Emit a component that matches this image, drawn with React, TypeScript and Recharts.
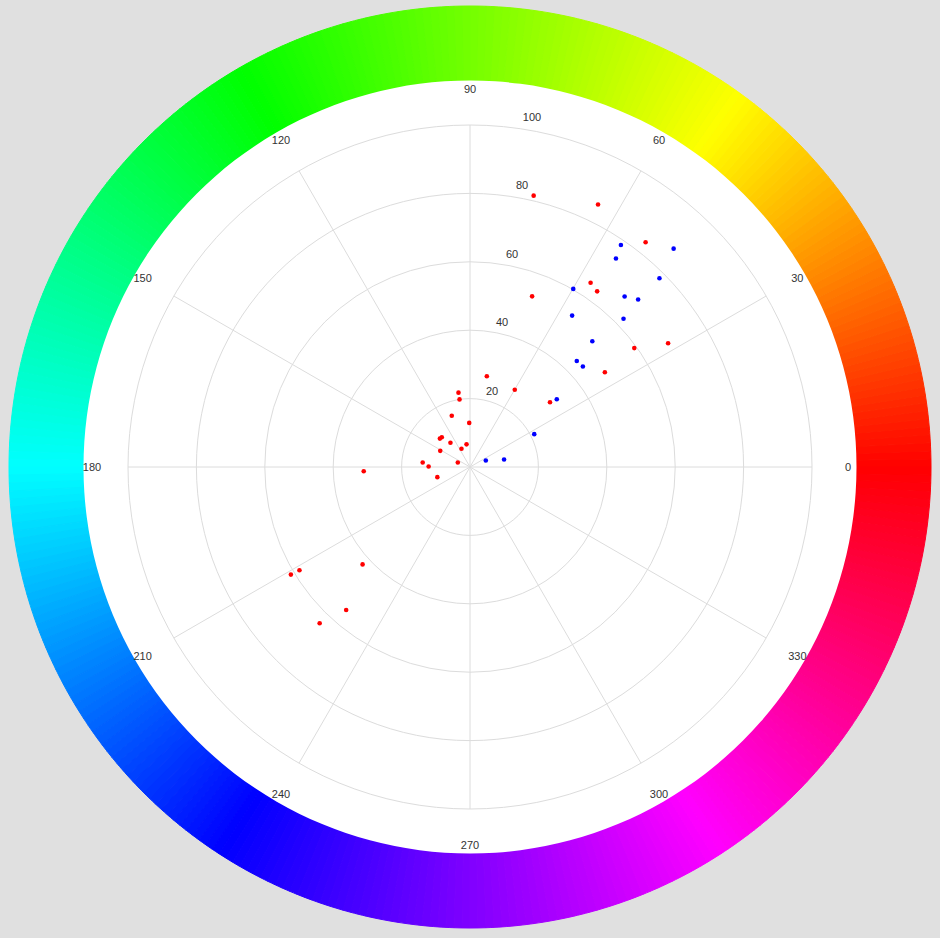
import React from 'react';
import {
  PieChart, Pie, Cell,
  RadarChart, Radar, PolarGrid, PolarAngleAxis, PolarRadiusAxis,
  ScatterChart, Scatter, XAxis, YAxis,
} from 'recharts';

const W = 940;
const H = 938;
const CX = 470;
const CY = 467;
const R = 342;

const FONT = '"Liberation Sans", Arial, Helvetica, sans-serif';

// angular categories (degrees)
const angleTicks = [0, 30, 60, 90, 120, 150, 180, 210, 240, 270, 300, 330];
// radial axis
const radiusDomain = [0, 100];
const radiusTickCount = 6;

// colour-wheel key stops: [position angle, hue]
const ringStops: [number, number][] = [
  [0, 0], [54, 60], [120, 120], [180, 180], [237, 240], [303, 300], [360, 360],
];

const hueAt = (deg: number) => {
  for (let i = 1; i < ringStops.length; i++) {
    const [a0, h0] = ringStops[i - 1];
    const [a1, h1] = ringStops[i];
    if (deg <= a1) return h0 + ((deg - a0) / (a1 - a0)) * (h1 - h0);
  }
  return 360;
};

// one slice per degree of the wheel
const ringSlices = Array.from({ length: 360 }, (_, i) => ({ pos: i, v: 1 }));

// [radius, angle in degrees]
const redSeries: [number, number][] = [
  [81.5, 76.8], [85.4, 64.0], [83.4, 52.0], [64.4, 56.8], [63.4, 54.1],
  [53.1, 70.0], [68.3, 32.0], [59.3, 35.9], [48.2, 35.1], [27.0, 79.5],
  [26.1, 59.9], [30.1, 39.0], [22.0, 98.8], [20.0, 98.8], [15.9, 109.6],
  [12.9, 91.0], [12.0, 133.4], [12.1, 136.7], [9.1, 128.9], [6.7, 98.7],
  [5.9, 115.0], [9.9, 151.5], [13.9, 174.6], [12.1, 179.3], [3.8, 159.8],
  [10.0, 197.3], [31.1, 182.3], [42.4, 222.2], [58.3, 211.2], [61.1, 211.0],
  [55.3, 229.1], [63.4, 226.1],
];

const blueSeries: [number, number][] = [
  [78.5, 55.8], [87.3, 47.0], [74.4, 55.0], [78.2, 44.9], [60.2, 59.9],
  [67.3, 47.8], [69.4, 44.9], [53.4, 56.0], [62.4, 44.0], [51.3, 45.8],
  [44.0, 44.8], [44.2, 41.7], [32.2, 38.0], [21.1, 27.1], [10.2, 12.4],
  [5.0, 22.4],
];

const toXY = (pts: [number, number][]) =>
  pts.map(([r, a]) => ({
    x: r * Math.cos((a * Math.PI) / 180),
    y: r * Math.sin((a * Math.PI) / 180),
    r,
    a,
  }));

const angleData = angleTicks.map((a) => ({ angle: a, base: 0 }));
const diskData = [{ v: 1 }];

const AngleTick = (props: any) => {
  const { x, y, payload } = props;
  return (
    <text
      x={x}
      y={y}
      textAnchor="middle"
      dominantBaseline="central"
      fontSize={11}
      fontFamily={FONT}
      fill="#333"
    >
      {payload.value}
    </text>
  );
};

const RadiusTick = (props: any) => {
  const { x, y, payload } = props;
  if (payload.value === 0) return <g />;
  return (
    <text
      x={x + 12 + payload.value * 0.5}
      y={y - 8}
      textAnchor="middle"
      dominantBaseline="central"
      fontSize={11}
      fontFamily={FONT}
      fill="#333"
    >
      {payload.value}
    </text>
  );
};

const makeDot = (color: string) => (props: any) => (
  <circle cx={props.cx} cy={props.cy} r={2.3} fill={color} />
);

const layer: React.CSSProperties = { position: 'absolute', left: 0, top: 0 };

export default function App() {
  return (
    <div
      style={{
        position: 'absolute',
        left: 0,
        top: 0,
        width: W,
        height: H,
        background: '#e0e0e0',
        overflow: 'hidden',
      }}
    >
      <div style={layer}>
        <PieChart width={W} height={H} margin={{ top: 0, right: 0, bottom: 0, left: 0 }}>
          <Pie
            data={ringSlices}
            dataKey="v"
            cx={CX}
            cy={CY}
            innerRadius={380}
            outerRadius={461}
            startAngle={0}
            endAngle={360}
            paddingAngle={0}
            isAnimationActive={false}
            label={false}
            labelLine={false}
          >
            {ringSlices.map((d) => {
              const c = `hsl(${hueAt(d.pos + 0.5).toFixed(1)}, 100%, 50%)`;
              return <Cell key={d.pos} fill={c} stroke={c} strokeWidth={1} />;
            })}
          </Pie>
          <Pie
            data={diskData}
            dataKey="v"
            cx={CX}
            cy={CY}
            innerRadius={0}
            outerRadius={386.5}
            startAngle={0}
            endAngle={360}
            fill="#ffffff"
            stroke="none"
            isAnimationActive={false}
          />
        </PieChart>
      </div>

      <div style={layer}>
        <RadarChart
          width={W}
          height={H}
          data={angleData}
          cx={CX}
          cy={CY}
          innerRadius={0}
          outerRadius={R}
          startAngle={30}
          endAngle={390}
          margin={{ top: 0, right: 0, bottom: 0, left: 0 }}
        >
          <PolarGrid gridType="circle" stroke="#dcdcdc" strokeWidth={1} />
          <PolarAngleAxis
            dataKey="angle"
            tickSize={36}
            tickLine={false}
            axisLine={false}
            tick={AngleTick}
          />
          <PolarRadiusAxis
            angle={90}
            type="number"
            domain={radiusDomain}
            allowDataOverflow
            tickCount={radiusTickCount}
            axisLine={false}
            tick={RadiusTick}
          />
          <Radar
            dataKey="base"
            stroke="none"
            fill="none"
            dot={false}
            isAnimationActive={false}
          />
        </RadarChart>
      </div>

      <div style={layer}>
        <ScatterChart
          width={W}
          height={H}
          margin={{ top: CY - R, bottom: H - CY - R, left: CX - R, right: W - CX - R }}
        >
          <XAxis type="number" dataKey="x" domain={[-100, 100]} hide allowDataOverflow height={0} />
          <YAxis type="number" dataKey="y" domain={[-100, 100]} hide allowDataOverflow width={0} />
          <Scatter
            name="red"
            data={toXY(redSeries)}
            fill="#ff0000"
            shape={makeDot('#ff0000')}
            isAnimationActive={false}
          />
          <Scatter
            name="blue"
            data={toXY(blueSeries)}
            fill="#0000ff"
            shape={makeDot('#0000ff')}
            isAnimationActive={false}
          />
        </ScatterChart>
      </div>
    </div>
  );
}
